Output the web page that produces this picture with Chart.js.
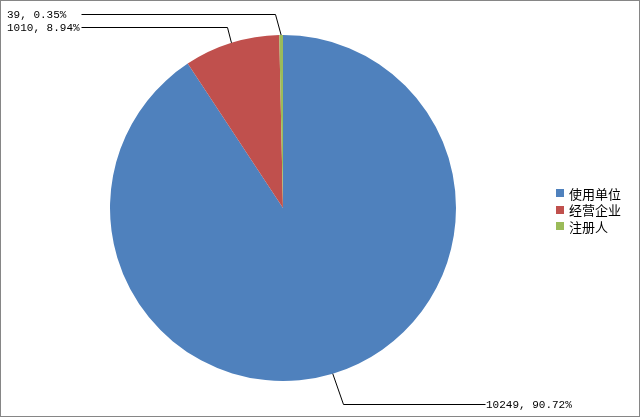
<!DOCTYPE html>
<html>
<head>
<meta charset="utf-8">
<script src="https://cdn.jsdelivr.net/npm/chart.js@4"></script>
<style>
  body { margin: 0; background: #fff; }
  #wrap { width: 638px; height: 415px; border: 1px solid #868686; }
</style>
</head>
<body>
<div id="wrap"><canvas id="pieChart" width="638" height="415"></canvas></div>
<script>
// Data
const categories = ['使用单位', '经营企业', '注册人'];
const counts = [10249, 1010, 39];
const sliceColors = ['#4F81BD', '#C0504D', '#9BBB59'];

// Where each data label sits (canvas px): text start, leader elbow, far end of the horizontal run
const labelLayout = [
  { textX: 485, y: 403, elbowX: 342, lineX: 484 },
  { textX: 6, y: 26, elbowX: 226, lineX: 80 },
  { textX: 6, y: 13, elbowX: 274, lineX: 80 }
];

const total = counts.reduce((a, b) => a + b, 0);

// Leader-line labels: "value, pct%"
const leaderLabels = {
  id: 'leaderLabels',
  afterDatasetsDraw(chart) {
    const ctx = chart.ctx;
    const arcs = chart.getDatasetMeta(0).data;
    ctx.save();
    ctx.strokeStyle = '#000';
    ctx.lineWidth = 1;
    ctx.fillStyle = '#000';
    ctx.font = '11px "Liberation Mono", "DejaVu Sans Mono", monospace';
    ctx.textBaseline = 'middle';
    ctx.textAlign = 'left';
    arcs.forEach((arc, i) => {
      const p = arc.getProps(['x', 'y', 'startAngle', 'endAngle', 'outerRadius'], true);
      const mid = (p.startAngle + p.endAngle) / 2;
      const ax = p.x + Math.cos(mid) * p.outerRadius;
      const ay = p.y + Math.sin(mid) * p.outerRadius;
      const lay = labelLayout[i];
      ctx.beginPath();
      ctx.moveTo(ax, ay);
      ctx.lineTo(lay.elbowX + 0.5, lay.y + 0.5);
      ctx.lineTo(lay.lineX + 0.5, lay.y + 0.5);
      ctx.stroke();
      const pct = (counts[i] / total * 100).toFixed(2);
      ctx.fillText(`${counts[i]}, ${pct}%`, lay.textX, lay.y + 1);
    });
    ctx.restore();
  }
};

// Legend on the right
const sideLegend = {
  id: 'sideLegend',
  afterDraw(chart) {
    const ctx = chart.ctx;
    ctx.save();
    ctx.font = '13px "Noto Sans CJK SC", sans-serif';
    ctx.textBaseline = 'middle';
    ctx.textAlign = 'left';
    categories.forEach((name, i) => {
      const cy = 192 + i * 16.5;
      ctx.fillStyle = sliceColors[i];
      ctx.fillRect(555, Math.round(cy - 4), 8, 8);
      ctx.fillStyle = '#000';
      ctx.fillText(name, 568, cy + 1);
    });
    ctx.restore();
  }
};

new Chart(document.getElementById('pieChart'), {
  type: 'pie',
  data: {
    labels: categories,
    datasets: [{
      data: counts,
      backgroundColor: sliceColors,
      borderWidth: 0
    }]
  },
  options: {
    responsive: false,
    animation: false,
    layout: { padding: { top: 34, bottom: 35, left: 109, right: 183 } },
    plugins: {
      legend: { display: false },
      tooltip: { enabled: false }
    }
  },
  plugins: [leaderLabels, sideLegend]
});
</script>
</body>
</html>
